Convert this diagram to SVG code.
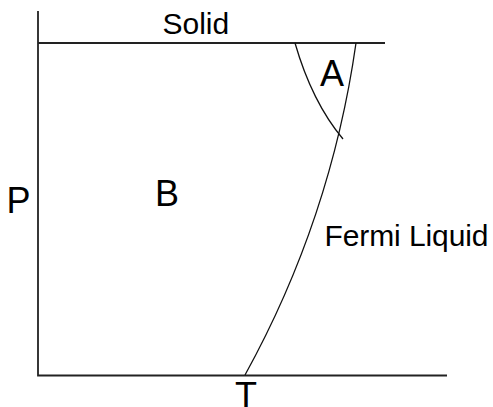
<svg xmlns="http://www.w3.org/2000/svg" width="493" height="407" viewBox="0 0 493 407">
<style>
.ax{stroke:#222;stroke-width:1.8;fill:none}
.cv{stroke:#111;stroke-width:1.3;fill:none}
text{font-family:"Liberation Sans",Arial,sans-serif;fill:#000}
.big{font-size:36px}
.lbl{font-size:30px}
</style>
<rect width="493" height="407" fill="#fff"/>
<g id="connectors">
<path class="ax" d="M38,11 V375.5 H447"/>
<path class="ax" d="M38,43 H385"/>
<path class="cv" d="M245,375 Q331,219 356,43"/>
<path class="cv" d="M295,43 Q312,102 343,139"/>
</g>
<g id="solid"><text class="lbl" x="162.5" y="33.5">Solid</text></g>
<g id="A"><text class="big" x="320" y="85.5">A</text></g>
<g id="B"><text class="big" x="155" y="205.5">B</text></g>
<g id="P"><text class="big" x="6.5" y="212.5">P</text></g>
<g id="fermi"><text class="lbl" x="324.5" y="246" textLength="164" lengthAdjust="spacing">Fermi Liquid</text></g>
<g id="T"><text class="big" x="246" y="408" text-anchor="middle">T</text></g>
</svg>
